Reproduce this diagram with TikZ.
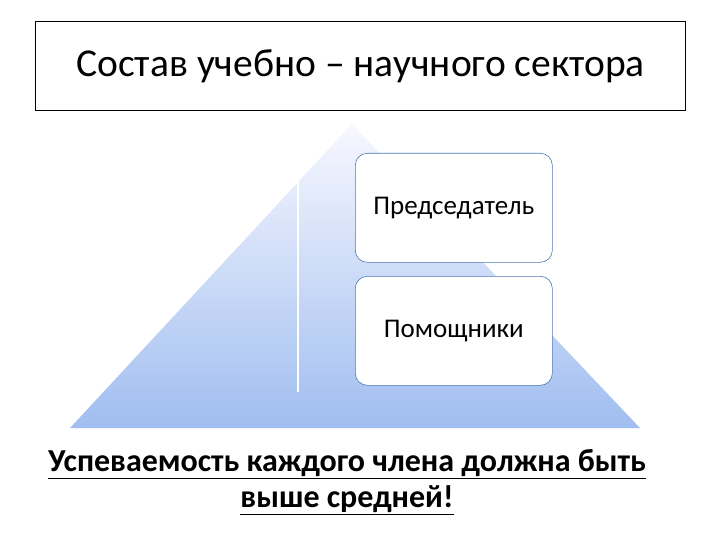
\documentclass[tikz,border=0pt]{standalone}
\usepackage{fontspec}
\setmainfont{Carlito}
\newcommand{\ulx}[1]{\underline{#1}}
\begin{document}
\begin{tikzpicture}[x=1pt,y=-1pt,
  rbox/.style={draw=blue!60!cyan!60!black!70, rounded corners=12pt, fill=white, minimum width=197pt, minimum height=109pt, line width=0.6pt, font=\fontsize{27}{30}\selectfont, anchor=north west}]
\useasboundingbox (0,0) rectangle (720,540);
\node[draw=black, line width=1.2pt, minimum width=650pt, minimum height=89pt, anchor=north west, font=\fontsize{39.5}{44}\selectfont] (title) at (35,21) {Состав учебно -- научного сектора};
\shade[top color=blue!3, bottom color={rgb,255:red,160;green,190;blue,240}] (352,124) -- (640,428) -- (70,428) -- cycle;
\draw[white, line width=1.5pt] (298,180) -- (298,392);
\node[rbox] (a) at (355,153) {Председатель};
\node[rbox] (b) at (355,276) {Помощники};
\node[font=\bfseries\fontsize{32}{36}\selectfont, align=center] (c) at (347,482) {\ulx{Успеваемость каждого члена должна быть}\\\ulx{выше средней!}};
\end{tikzpicture}
\end{document}
